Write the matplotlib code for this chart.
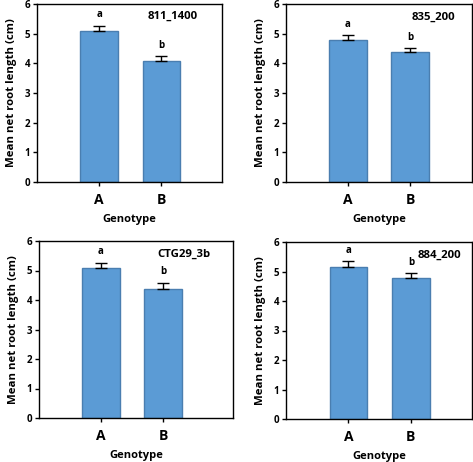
import matplotlib
matplotlib.use("Agg")
import matplotlib.pyplot as plt

plt.rcParams['font.family'] = ['Open Sans', 'DejaVu Sans']

genotypes = ["A", "B"]
markers = ["811_1400", "835_200", "CTG29_3b", "884_200"]
means = [[5.09, 4.07], [4.79, 4.37], [5.10, 4.37], [5.14, 4.78]]
errors = [[0.18, 0.18], [0.16, 0.13], [0.17, 0.22], [0.20, 0.16]]
letters = ["a", "b"]
yticks = [0, 1, 2, 3, 4, 5, 6]

W, H = 473, 462
fig = plt.figure(figsize=(W / 100, H / 100), dpi=100)

# pixel boxes: left, right, top, bottom
boxes = [(37, 222, 4, 182), (286, 472, 4, 182), (39, 233, 241, 418), (286, 472, 242, 419)]
xlims = [(-1, 1.98), (-1, 2.0), (-1, 2.13), (-1, 1.98)]
# marker label anchor (centre x pixel, centre y pixel)
mpos = [(173, 16), (433, 17), (184, 254), (439, 255)]

for i, (l, r, t, b) in enumerate(boxes):
    ax = fig.add_axes([l / W, (H - b) / H, (r - l) / W, (b - t) / H])
    x = list(range(len(genotypes)))
    ax.bar(x, means[i], width=0.6, color="#5b9bd5", edgecolor="#4a7eb0", linewidth=1.0, zorder=2)
    ax.errorbar(x, means[i], yerr=[[0, 0], errors[i]], fmt="none", ecolor="black",
                elinewidth=1.0, capsize=4, capthick=1.0, zorder=3)
    for xi, m, e, lt in zip(x, means[i], errors[i], letters):
        ax.text(xi, m + e + 0.36, lt, ha="center", va="center", fontsize=7, fontweight="bold")
    mx, my = mpos[i]
    fig.text(mx / W, (H - my) / H, markers[i], ha="center", va="center",
             fontsize=8.2, fontweight="bold")
    ax.set_xlim(*xlims[i])
    ax.set_ylim(0, 6)
    ax.set_yticks(yticks)
    ax.set_yticklabels([str(v) for v in yticks], fontsize=7, fontweight="bold")
    ax.set_xticks(x)
    ax.set_xticklabels(genotypes, fontsize=10, fontweight="bold")
    ax.tick_params(axis="y", direction="out", length=3, width=1, pad=2)
    ax.tick_params(axis="x", direction="out", length=3, width=1, pad=5)
    ax.set_xlabel("Genotype", fontsize=8, fontweight="bold", labelpad=5)
    ax.set_ylabel("Mean net root length (cm)", fontsize=8.2, fontweight="bold", labelpad=5)
    for s in ax.spines.values():
        s.set_linewidth(1.0)

fig.savefig("out.png", dpi=100)
